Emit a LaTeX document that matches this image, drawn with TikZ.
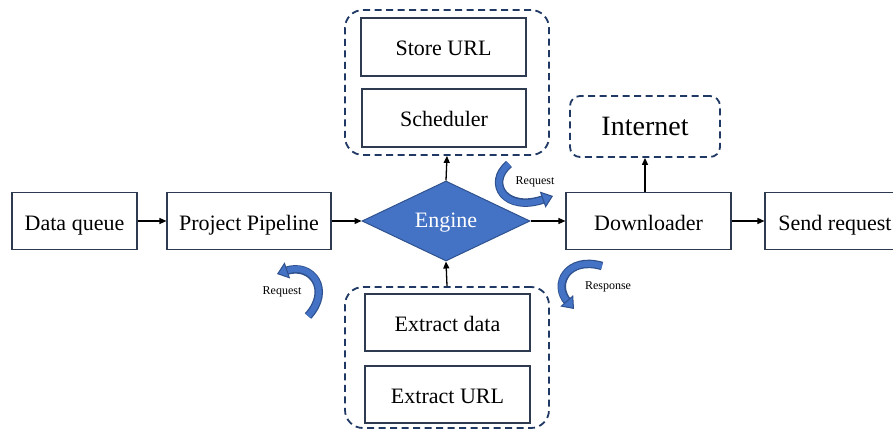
\documentclass[tikz,border=0pt]{standalone}
\usepackage{fontspec}
\setmainfont{Liberation Serif}
\usetikzlibrary{shapes.geometric,arrows.meta}
\definecolor{engblue}{HTML}{4472C4}
\definecolor{engdark}{HTML}{2F528F}
\definecolor{grpnavy}{HTML}{1F3864}
\definecolor{boxline}{HTML}{2E3A50}
\tikzset{
  box/.style={draw=boxline, line width=1.1pt, fill=white, inner sep=0pt,
    text height=18pt, text depth=0pt,
    font=\fontsize{22}{26}\selectfont},
  group/.style={draw=grpnavy, line width=1.8pt, dash pattern=on 7pt off 4.5pt,
    rounded corners=18pt, inner sep=0pt},
  flow/.style={draw=black, line width=1.3pt, -{Triangle[length=7pt,width=6pt]}},
  bendunder/.style={draw=engdark, line width=8.5pt, shorten >=9pt},
  bendover/.style={draw=engblue, line width=6pt,
    -{Triangle[length=11pt,width=17pt,fill=engblue,color=engdark,line width=1pt]}},
  tag/.style={font=\fontsize{12}{14}\selectfont, inner sep=0pt}
}
\begin{document}
\begin{tikzpicture}[x=1pt,y=-1pt]
\useasboundingbox (0,0) rectangle (893,430);
\clip (0,0) rectangle (893,430);

% main row
\node[box, minimum width=125pt, minimum height=57pt] (dq) at (74.5,221) {Data queue};
\node[box, minimum width=164pt, minimum height=57pt] (pp) at (249,221) {Project Pipeline};
\node[diamond, draw=engdark, fill=engblue, line width=1pt, inner sep=0pt,
  minimum width=168pt, minimum height=80pt, text=white,
  text height=12pt, text depth=0pt,
  font=\fontsize{22}{26}\selectfont] (eng) at (446,221) {Engine};
\node[box, minimum width=165pt, minimum height=57pt] (dl) at (648.5,221) {Downloader};
\node[box, minimum width=140pt, minimum height=57pt] (sr) at (835,221) {Send request};

% scheduler group above the engine
\node[group, minimum width=204pt, minimum height=145pt] (topgrp) at (447,82.5) {};
\node[box, minimum width=165pt, minimum height=58pt] (store) at (443.5,47) {Store URL};
\node[box, minimum width=164pt, minimum height=58pt] (sched) at (444,118) {Scheduler};

% extraction group below the engine
\node[group, minimum width=204pt, minimum height=141pt] (botgrp) at (447,357.5) {};
\node[box, minimum width=165pt, minimum height=57pt] (exd) at (447.5,322.5) {Extract data};
\node[box, minimum width=165pt, minimum height=57pt] (exu) at (447.5,394.5) {Extract URL};

% internet
\node[group, rounded corners=10pt, minimum width=150pt, minimum height=61pt,
  font=\fontsize{28}{32}\selectfont] (inet) at (645,126.5) {Internet};

% connectors
\draw[flow] (dq.east) -- (pp.west);
\draw[flow] (pp.east) -- (eng.west);
\draw[flow] (eng.east) -- (dl.west);
\draw[flow] (dl.east) -- (sr.west);
\draw[flow] (eng.north) -- (topgrp.south);
\draw[flow] (botgrp.north) -- (eng.south);
\draw[flow] (inet.south |- dl.north) -- (inet.south);

% curved block arrows
\coordinate (ra1) at (509,164);
\coordinate (ra2) at (553,196);
\draw[bendunder] (ra1) .. controls (486,183) and (505,213) .. (ra2);
\draw[bendover] (ra1) .. controls (486,183) and (505,213) .. (ra2);
\node[tag] (rq1) at (535,182) {Request};

\coordinate (rb1) at (308,316);
\coordinate (rb2) at (277,274);
\draw[bendunder] (rb1) .. controls (332,290) and (312,262) .. (rb2);
\draw[bendover] (rb1) .. controls (332,290) and (312,262) .. (rb2);
\node[tag] (rq2) at (282,292) {Request};

\coordinate (rc1) at (602,266);
\coordinate (rc2) at (574,309);
\draw[bendunder] (rc1) .. controls (568,256) and (552,284) .. (rc2);
\draw[bendover] (rc1) .. controls (568,256) and (552,284) .. (rc2);
\node[tag] (rsp) at (608,287) {Response};
\end{tikzpicture}
\end{document}
